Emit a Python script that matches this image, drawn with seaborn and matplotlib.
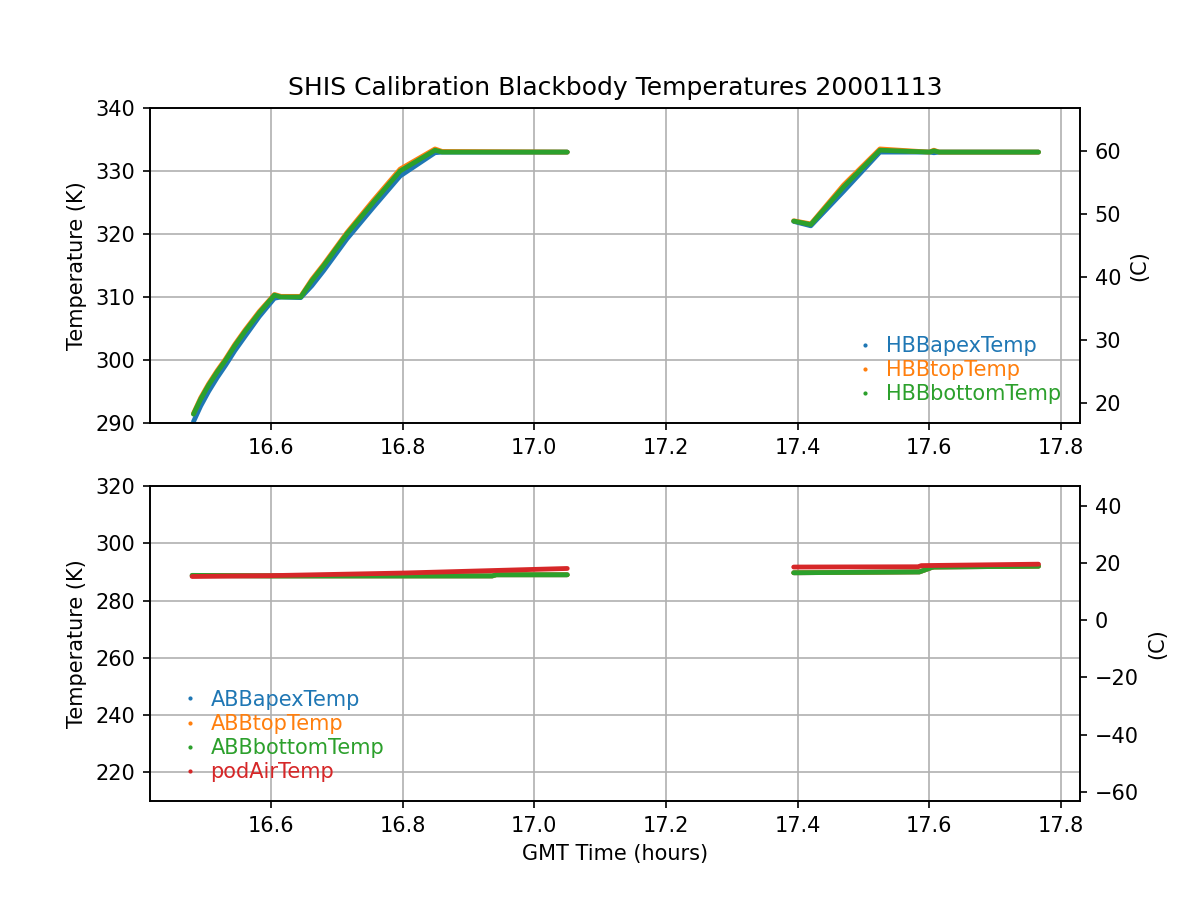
import matplotlib
matplotlib.use("Agg")
import matplotlib.pyplot as plt
from matplotlib.lines import Line2D
import seaborn as sns
import pandas as pd

# ---------------- data (hours GMT, Kelvin) ----------------
hbb_t1 = [16.482, 16.493, 16.505, 16.518, 16.531, 16.545, 16.560, 16.582, 16.605, 16.615, 16.645, 16.662, 16.680, 16.715, 16.755, 16.796, 16.849, 16.860, 17.050]
hbb_apex1 = [290.2, 292.7, 295.0, 297.2, 299.2, 301.5, 303.7, 306.9, 309.8, 310.0, 309.9, 311.8, 314.2, 319.2, 324.2, 329.2, 332.9, 333.0, 333.0]
hbb_top1 = [291.5, 294.0, 296.2, 298.3, 300.2, 302.5, 304.7, 307.7, 310.4, 310.1, 310.1, 312.8, 315.2, 320.2, 325.3, 330.3, 333.5, 333.1, 333.0]
hbb_bot1 = [291.4, 293.8, 296.0, 298.1, 300.0, 302.3, 304.5, 307.5, 310.3, 310.0, 310.0, 312.6, 315.0, 320.0, 325.0, 330.0, 333.3, 333.0, 333.0]

hbb_t2 = [17.394, 17.420, 17.470, 17.525, 17.600, 17.607, 17.615, 17.766]
hbb_apex2 = [322.0, 321.3, 326.8, 333.0, 333.0, 332.9, 333.0, 333.0]
hbb_top2 = [322.1, 321.6, 327.8, 333.5, 333.0, 333.3, 333.0, 333.0]
hbb_bot2 = [322.05, 321.5, 327.5, 333.3, 333.0, 333.2, 333.0, 333.0]

abb_t1 = [16.480, 16.600, 16.800, 16.936, 16.942, 17.050]
abb_apex1 = [288.7, 288.6, 288.6, 288.6, 289.0, 289.0]
abb_top1 = [288.7, 288.6, 288.6, 288.6, 289.0, 289.0]
abb_bot1 = [288.8, 288.6, 288.6, 288.6, 289.0, 289.0]
pod_t1 = [16.480, 16.600, 16.800, 17.050]
pod1 = [288.4, 288.7, 289.6, 291.2]

abb_t2 = [17.394, 17.585, 17.603, 17.607, 17.766]
abb_apex2 = [289.7, 290.0, 291.5, 291.7, 292.0]
abb_top2 = [289.7, 290.0, 291.5, 291.7, 292.0]
abb_bot2 = [289.7, 290.0, 291.5, 291.7, 292.0]
pod_t2 = [17.394, 17.583, 17.588, 17.766]
pod2 = [291.7, 291.8, 292.2, 292.7]

top_labels = ["HBBapexTemp", "HBBtopTemp", "HBBbottomTemp"]
bot_labels = ["ABBapexTemp", "ABBtopTemp", "ABBbottomTemp", "podAirTemp"]
colors = ["#1f77b4", "#ff7f0e", "#2ca02c", "#d62728"]

K0 = 273.15

def frame(series):
    rows = []
    for name, segs in series:
        for si, (t, v) in enumerate(segs):
            for ti, vi in zip(t, v):
                rows.append({"time": ti, "temp": vi, "series": name, "seg": si})
    return pd.DataFrame(rows)

top_df = frame([
    ("HBBapexTemp", [(hbb_t1, hbb_apex1), (hbb_t2, hbb_apex2)]),
    ("HBBtopTemp", [(hbb_t1, hbb_top1), (hbb_t2, hbb_top2)]),
    ("HBBbottomTemp", [(hbb_t1, hbb_bot1), (hbb_t2, hbb_bot2)]),
])
bot_df = frame([
    ("ABBapexTemp", [(abb_t1, abb_apex1), (abb_t2, abb_apex2)]),
    ("ABBtopTemp", [(abb_t1, abb_top1), (abb_t2, abb_top2)]),
    ("ABBbottomTemp", [(abb_t1, abb_bot1), (abb_t2, abb_bot2)]),
    ("podAirTemp", [(pod_t1, pod1), (pod_t2, pod2)]),
])

fig, (ax1, ax2) = plt.subplots(2, 1, figsize=(8, 6), dpi=150)

def draw(ax, df, labels, ylim, yticks, legloc):
    for i, name in enumerate(labels):
        sub = df[df.series == name]
        sns.lineplot(data=sub, x="time", y="temp", units="seg", estimator=None,
                     color=colors[i], lw=2.3, ax=ax, legend=False, sort=False,
                     solid_capstyle="round", solid_joinstyle="round")
    ax.set_ylim(*ylim)
    ax.set_yticks(yticks)
    ax.set_xlim(16.416, 17.829)
    ax.set_xticks([16.6, 16.8, 17.0, 17.2, 17.4, 17.6, 17.8])
    ax.grid(True, color="#b0b0b0", lw=0.8)
    ax.set_ylabel("Temperature (K)")
    ax.set_xlabel("")
    handles = [Line2D([], [], ls="none", marker=".", ms=2, color=colors[i]) for i in range(len(labels))]
    leg = ax.legend(handles, labels, loc=legloc, frameon=False, handletextpad=0.0,
                    labelspacing=0.2, borderaxespad=0.5, numpoints=1)
    for txt, c in zip(leg.get_texts(), colors):
        txt.set_color(c)
    axr = ax.twinx()
    axr.set_ylim(ylim[0] - K0, ylim[1] - K0)
    axr.set_ylabel("(C)")
    return axr

r1 = draw(ax1, top_df, top_labels, (290, 340), [290, 300, 310, 320, 330, 340], "lower right")
r1.set_yticks([20, 30, 40, 50, 60])
r2 = draw(ax2, bot_df, bot_labels, (210, 320), [220, 240, 260, 280, 300, 320], "lower left")
r2.set_yticks([-60, -40, -20, 0, 20, 40])
r2.set_yticklabels(["\u221260", "\u221240", "\u221220", "0", "20", "40"])

ax1.set_title("SHIS Calibration Blackbody Temperatures 20001113")
ax2.set_xlabel("GMT Time (hours)")

fig.subplots_adjust(left=0.125, right=0.9, top=0.88, bottom=0.11, hspace=0.2)
fig.savefig("out.png", dpi=150)
